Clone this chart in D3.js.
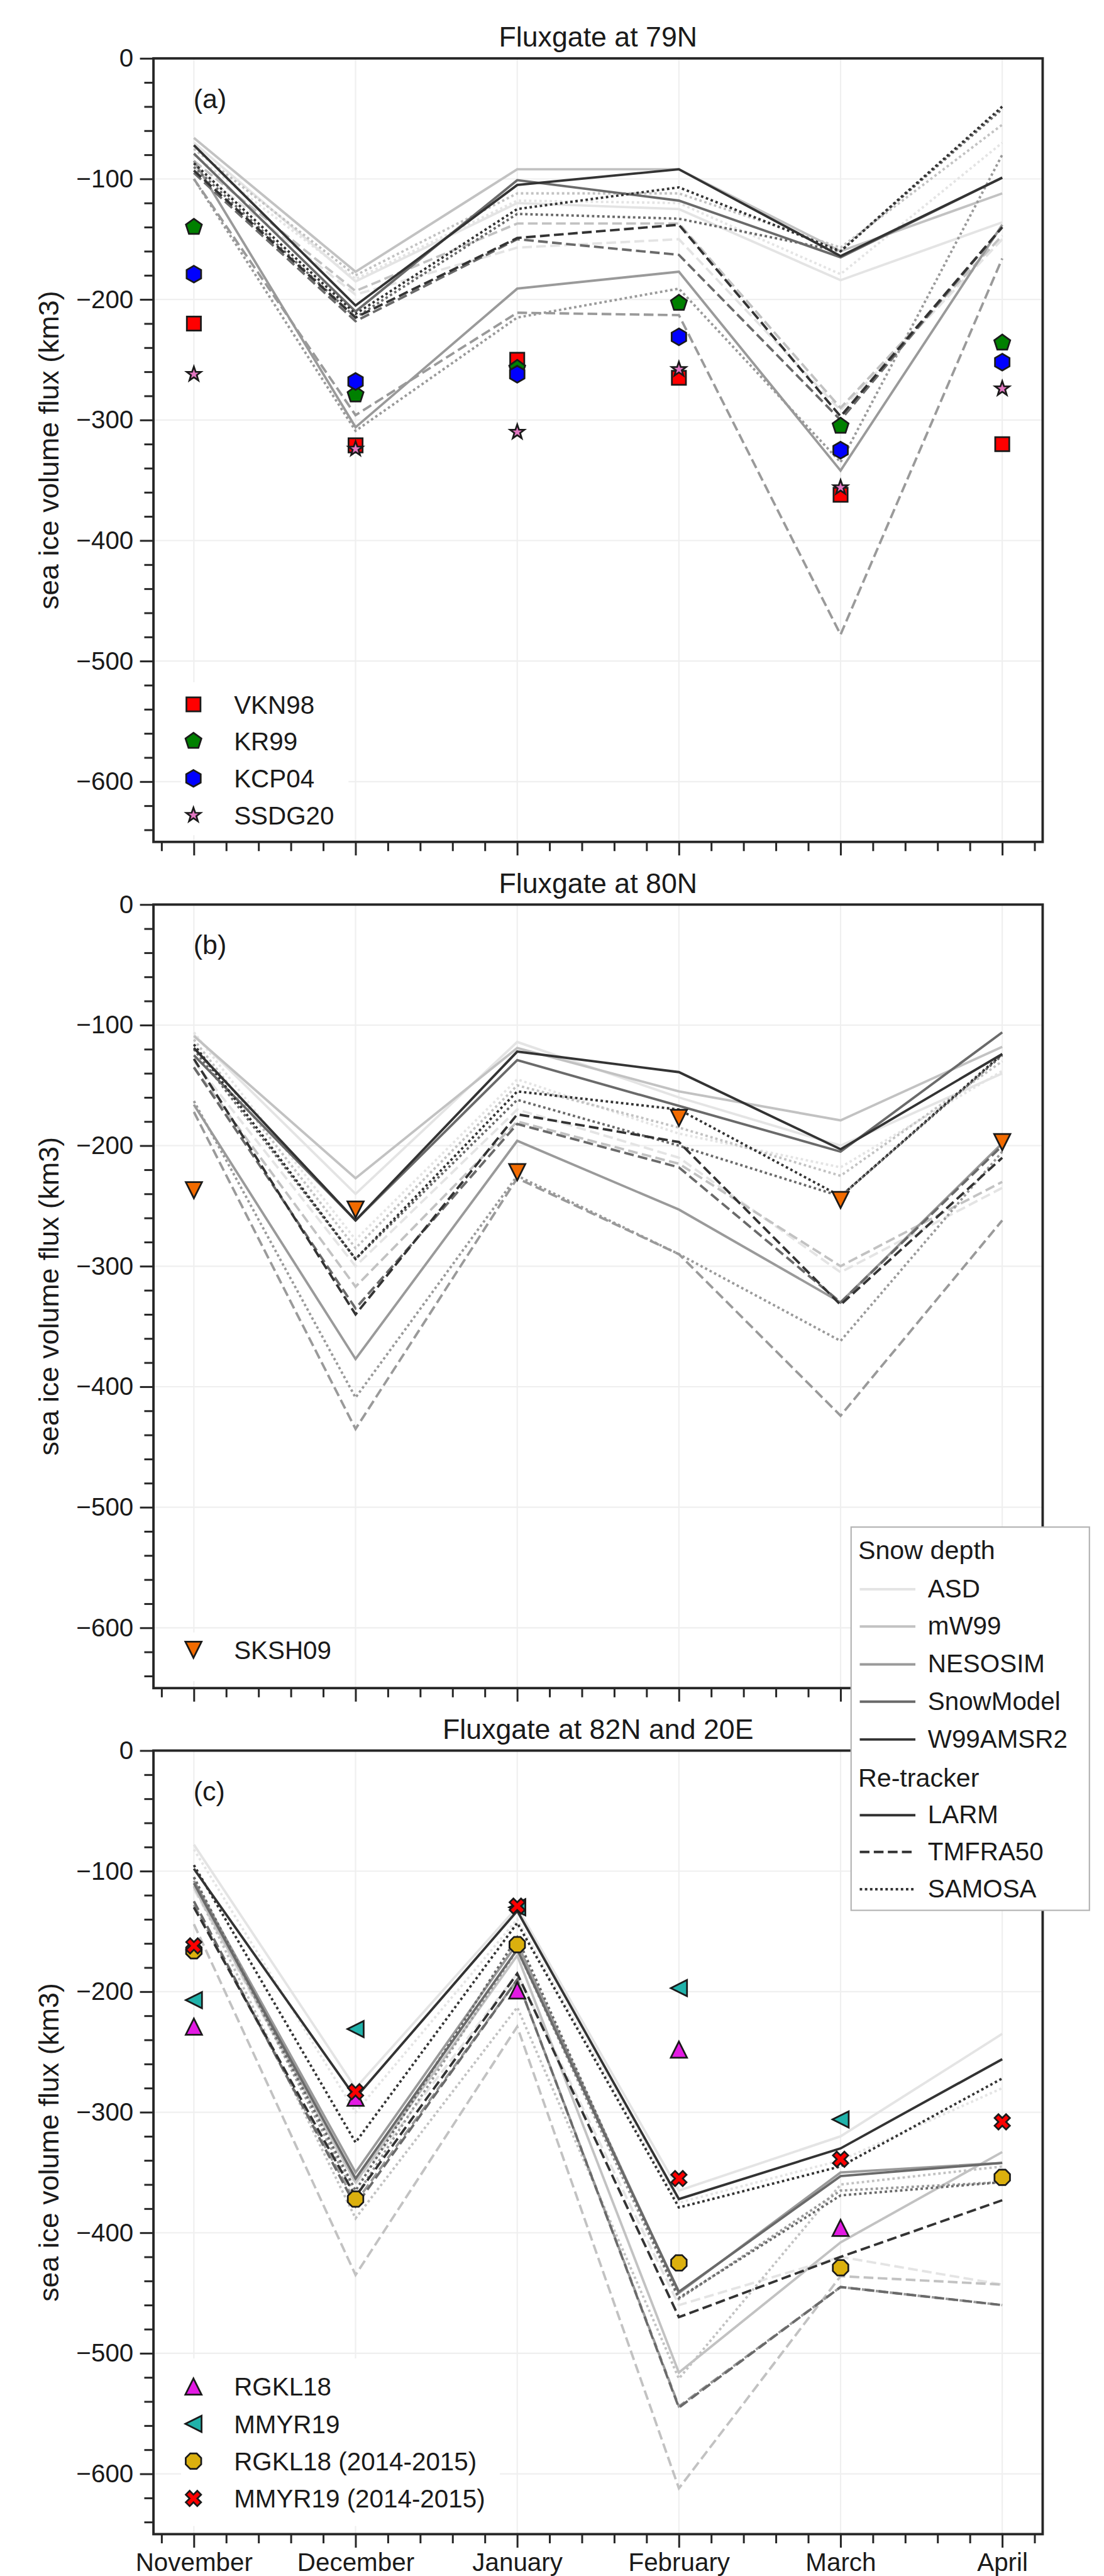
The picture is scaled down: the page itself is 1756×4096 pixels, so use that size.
<!DOCTYPE html>
<html>
<head>
<meta charset="utf-8">
<script src="https://cdn.jsdelivr.net/npm/d3@7"></script>
<style>
  body { margin: 0; background: #fff; }
  svg text { font-family: "Liberation Sans", Arial, sans-serif; fill: #1a1a1a; }
</style>
</head>
<body>
<div id="chart"></div>
<script>
/* DATA */
const months = ["November", "December", "January", "February", "March", "April"];
const snowProducts = ["ASD", "mW99", "NESOSIM", "SnowModel", "W99AMSR2"];
const retrackers = ["LARM", "TMFRA50", "SAMOSA"];
const panelTitles = ["Fluxgate at 79N", "Fluxgate at 80N", "Fluxgate at 82N and 20E"];
const panelLetters = ["(a)", "(b)", "(c)"];
const yMajor = [0, -100, -200, -300, -400, -500, -600];

// [snow depth, re-tracker, Nov..Apr] (km3)
const flux79N = [
  ["ASD", "LARM", [-70, -185, -120, -125, -184, -136]],
  ["ASD", "TMFRA50", [-90, -196, -157, -150, -292, -150]],
  ["ASD", "SAMOSA", [-80, -183, -118, -120, -179, -70]],
  ["mW99", "LARM", [-66, -177, -92, -92, -160, -112]],
  ["mW99", "TMFRA50", [-85, -193, -137, -137, -290, -147]],
  ["mW99", "SAMOSA", [-75, -180, -112, -112, -157, -55]],
  ["NESOSIM", "LARM", [-85, -306, -191, -177, -342, -138]],
  ["NESOSIM", "TMFRA50", [-100, -296, -211, -213, -478, -166]],
  ["NESOSIM", "SAMOSA", [-100, -309, -215, -191, -335, -80]],
  ["SnowModel", "LARM", [-79, -210, -101, -118, -165, -99]],
  ["SnowModel", "TMFRA50", [-95, -218, -150, -163, -300, -140]],
  ["SnowModel", "SAMOSA", [-90, -215, -129, -133, -160, -42]],
  ["W99AMSR2", "LARM", [-72, -205, -105, -92, -164, -99]],
  ["W99AMSR2", "TMFRA50", [-93, -215, -149, -138, -297, -140]],
  ["W99AMSR2", "SAMOSA", [-87, -212, -125, -107, -160, -40]]
];

const flux80N = [
  ["ASD", "LARM", [-108, -240, -114, -160, -200, -140]],
  ["ASD", "TMFRA50", [-130, -300, -170, -210, -305, -235]],
  ["ASD", "SAMOSA", [-106, -278, -145, -190, -218, -138]],
  ["mW99", "LARM", [-109, -227, -119, -155, -179, -118]],
  ["mW99", "TMFRA50", [-135, -317, -180, -215, -300, -230]],
  ["mW99", "SAMOSA", [-112, -285, -150, -185, -225, -130]],
  ["NESOSIM", "LARM", [-166, -377, -196, -253, -330, -198]],
  ["NESOSIM", "TMFRA50", [-172, -435, -227, -290, -424, -262]],
  ["NESOSIM", "SAMOSA", [-163, -409, -225, -290, -362, -205]],
  ["SnowModel", "LARM", [-125, -262, -129, -167, -205, -106]],
  ["SnowModel", "TMFRA50", [-135, -335, -182, -218, -330, -200]],
  ["SnowModel", "SAMOSA", [-120, -294, -162, -200, -242, -125]],
  ["W99AMSR2", "LARM", [-119, -262, -122, -139, -203, -124]],
  ["W99AMSR2", "TMFRA50", [-128, -340, -174, -197, -332, -210]],
  ["W99AMSR2", "SAMOSA", [-116, -294, -155, -170, -242, -124]]
];

const flux82N = [
  ["ASD", "LARM", [-78, -280, -130, -365, -320, -235]],
  ["ASD", "TMFRA50", [-115, -360, -185, -460, -420, -443]],
  ["ASD", "SAMOSA", [-82, -300, -140, -375, -340, -280]],
  ["mW99", "LARM", [-113, -358, -170, -516, -408, -333]],
  ["mW99", "TMFRA50", [-144, -435, -229, -612, -436, -443]],
  ["mW99", "SAMOSA", [-112, -388, -213, -521, -360, -345]],
  ["NESOSIM", "LARM", [-108, -350, -160, -450, -350, -342]],
  ["NESOSIM", "TMFRA50", [-128, -375, -190, -544, -445, -460]],
  ["NESOSIM", "SAMOSA", [-105, -370, -165, -455, -365, -358]],
  ["SnowModel", "LARM", [-110, -355, -165, -449, -353, -342]],
  ["SnowModel", "TMFRA50", [-125, -378, -190, -545, -445, -460]],
  ["SnowModel", "SAMOSA", [-105, -365, -155, -454, -369, -358]],
  ["W99AMSR2", "LARM", [-98, -288, -133, -372, -330, -256]],
  ["W99AMSR2", "TMFRA50", [-130, -370, -185, -470, -420, -373]],
  ["W99AMSR2", "SAMOSA", [-95, -325, -143, -379, -345, -272]]
];

// published estimates, null = no value
const refs79N = [
  ["VKN98", [-220, -321, -250, -265, -362, -320]],
  ["KR99", [-140, -279, -257, -203, -305, -236]],
  ["KCP04", [-179, -268, -262, -231, -325, -252]],
  ["SSDG20", [-262, -324, -310, -258, -356, -274]]
];
const refs80N = [
  ["SKSH09", [-237, -253, -222, -177, -245, -197]]
];
const refs82N = [
  ["RGKL18", [-229, -288, -199, -248, -396, null]],
  ["MMYR19", [-207, -231, -130, -197, -306, null]],
  ["RGKL18 (2014-2015)", [-166, -372, -161, -425, -429, -354]],
  ["MMYR19 (2014-2015)", [-162, -283, -129, -355, -339, -308]]
];

/* STYLES */
const snowColor = { ASD: "#e4e4e4", mW99: "#c2c2c2", NESOSIM: "#9a9a9a", SnowModel: "#6a6a6a", W99AMSR2: "#333333" };
const trackerDash = { LARM: null, TMFRA50: "18,8", SAMOSA: "4.5,5" };
const markerStyle = {
  "VKN98": { shape: "square", fill: "#ff0000" },
  "KR99": { shape: "pentagon", fill: "#008000" },
  "KCP04": { shape: "hexagon", fill: "#0000ff" },
  "SSDG20": { shape: "star", fill: "#e377c2" },
  "SKSH09": { shape: "triDown", fill: "#f26b00" },
  "RGKL18": { shape: "triUp", fill: "#e31ae3" },
  "MMYR19": { shape: "triLeft", fill: "#20b2aa" },
  "RGKL18 (2014-2015)": { shape: "octagon", fill: "#dbb00e" },
  "MMYR19 (2014-2015)": { shape: "x", fill: "#ff0000" }
};
const ink = "#262626";

/* LAYOUT (reference pixels, scaled down at the end) */
const S = 1756 / 2043;
const panelTop = [108, 1673.4, 3238.5];
const panelH = 1449.5;

const svg = d3.select("#chart").append("svg")
  .attr("width", 1756)
  .attr("height", 4096);
const root = svg.append("g").attr("transform", `scale(${S})`);

const x = d3.scaleLinear().domain([-0.25, 5.25]).range([284, 1929.5]);

function poly(n, r, startDeg) {
  const pts = d3.range(n).map(i => {
    const a = (startDeg + i * 360 / n) * Math.PI / 180;
    return [r * Math.cos(a), r * Math.sin(a)];
  });
  return "M" + pts.map(p => p.join(",")).join("L") + "Z";
}

function markerPath(shape) {
  switch (shape) {
    case "square": return "M-13,-13H13V13H-13Z";
    case "pentagon": return poly(5, 15.5, -90);
    case "hexagon": return poly(6, 15.5, -90);
    case "octagon": return poly(8, 15.5, -90 + 22.5);
    case "triUp": return "M0,-15L15,15L-15,15Z";
    case "triDown": return "M0,15L15,-15L-15,-15Z";
    case "triLeft": return "M-15,0L15,-15L15,15Z";
    case "star": {
      const pts = d3.range(10).map(i => {
        const r = i % 2 === 0 ? 14 : 5.6;
        const a = (-90 + i * 36) * Math.PI / 180;
        return [r * Math.cos(a), r * Math.sin(a)];
      });
      return "M" + pts.map(p => p.join(",")).join("L") + "Z";
    }
    case "x": {
      const r = 15, w = 5;
      const pts = [[-w, -r], [w, -r], [w, -w], [r, -w], [r, w], [w, w], [w, r], [-w, r], [-w, w], [-r, w], [-r, -w], [-w, -w]];
      const c = Math.SQRT1_2;
      return "M" + pts.map(([px, py]) => [(px - py) * c, (px + py) * c].join(",")).join("L") + "Z";
    }
  }
}

function drawMarker(g, name, cx, cy) {
  const st = markerStyle[name];
  g.append("path")
    .attr("d", markerPath(st.shape))
    .attr("transform", `translate(${cx},${cy})`)
    .attr("fill", st.fill)
    .attr("stroke", "#1a1a1a")
    .attr("stroke-width", 3.2)
    .attr("stroke-linejoin", "miter");
}

function drawPanel(k, lines, refs, legendRows, legendBox) {
  const top = panelTop[k], bottom = top + panelH;
  const y = d3.scaleLinear().domain([-650, 0]).range([bottom, top]);
  const g = root.append("g");

  // grid
  g.append("g").selectAll("line")
    .data(yMajor.filter(d => d < 0))
    .join("line")
    .attr("x1", x.range()[0]).attr("x2", x.range()[1])
    .attr("y1", d => y(d)).attr("y2", d => y(d))
    .attr("stroke", "#efefef").attr("stroke-width", 2.5);
  g.append("g").selectAll("line")
    .data(d3.range(6))
    .join("line")
    .attr("x1", d => x(d)).attr("x2", d => x(d))
    .attr("y1", top).attr("y2", bottom)
    .attr("stroke", "#efefef").attr("stroke-width", 2.5);

  // model lines
  const lineFunc = d3.line().x((d, i) => x(i)).y(d => y(d));
  g.append("g").selectAll("path")
    .data(lines)
    .join("path")
    .attr("d", d => lineFunc(d[2]))
    .attr("fill", "none")
    .attr("stroke", d => snowColor[d[0]])
    .attr("stroke-width", 4.5)
    .attr("stroke-dasharray", d => trackerDash[d[1]]);

  // legend background (hides grid)
  if (legendBox) {
    g.append("rect")
      .attr("x", legendBox[0]).attr("y", legendBox[1])
      .attr("width", legendBox[2]).attr("height", legendBox[3])
      .attr("fill", "#fff");
  }

  // reference markers
  const mg = g.append("g");
  refs.forEach(([name, vals]) => {
    vals.forEach((v, i) => {
      if (v !== null) drawMarker(mg, name, x(i), y(v));
    });
  });

  // axes
  const yAxis = d3.axisLeft(y).tickValues(yMajor).tickSize(25).tickPadding(12).tickFormat(d3.format("d"));
  const yMinor = d3.axisLeft(y)
    .tickValues(d3.range(-640, 0, 20).filter(d => d % 100 !== 0))
    .tickSize(17).tickFormat("");
  const xAxis = d3.axisBottom(x).tickValues(d3.range(6)).tickSize(25).tickPadding(10)
    .tickFormat(k === 2 ? (d => months[d]) : "");
  const xMinor = d3.axisBottom(x)
    .tickValues(d3.range(-1, 27).map(d => d / 5).filter(d => d > -0.25 && d < 5.25 && Math.abs(d - Math.round(d)) > 0.01))
    .tickSize(17).tickFormat("");

  [[yAxis, `translate(${x.range()[0]},0)`], [yMinor, `translate(${x.range()[0]},0)`],
   [xAxis, `translate(0,${bottom})`], [xMinor, `translate(0,${bottom})`]].forEach(([ax, tr]) => {
    const a = g.append("g").attr("transform", tr).call(ax);
    a.select(".domain").remove();
    a.selectAll("line").attr("stroke", ink).attr("stroke-width", 3.5);
    a.selectAll("text").attr("font-size", 47).attr("fill", "#111");
  });

  // frame
  g.append("rect")
    .attr("x", x.range()[0]).attr("y", top)
    .attr("width", x.range()[1] - x.range()[0]).attr("height", panelH)
    .attr("fill", "none").attr("stroke", ink).attr("stroke-width", 4.5);

  // title, panel letter, y label
  g.append("text")
    .attr("x", (x.range()[0] + x.range()[1]) / 2).attr("y", top - 21.5)
    .attr("text-anchor", "middle").attr("font-size", 52).attr("fill", "#111")
    .text(panelTitles[k]);
  g.append("text")
    .attr("x", 358).attr("y", top + 92)
    .attr("font-size", 50).attr("fill", "#222")
    .text(panelLetters[k]);
  g.append("text")
    .attr("transform", `translate(108,${(top + bottom) / 2}) rotate(-90)`)
    .attr("text-anchor", "middle").attr("font-size", 52).attr("fill", "#222")
    .text("sea ice volume flux (km3)");

  // marker legend
  refs.forEach(([name], i) => {
    const cy = legendRows[i];
    drawMarker(g, name, 358, cy);
    g.append("text")
      .attr("x", 433).attr("y", cy + 17)
      .attr("font-size", 47).attr("fill", "#222")
      .text(name);
  });
}

drawPanel(0, flux79N, refs79N, [1303, 1371, 1440, 1508], [335, 1262, 310, 283]);
drawPanel(1, flux80N, refs80N, [3052], [335, 3020, 260, 90]);
drawPanel(2, flux82N, refs82N, [4415, 4484, 4553, 4622], [335, 4363, 590, 310]);

/* LINE STYLE LEGEND */
const lg = root.append("g");
lg.append("rect")
  .attr("x", 1575).attr("y", 2825)
  .attr("width", 441).attr("height", 709)
  .attr("fill", "#fff").attr("stroke", "#b3b3b3").attr("stroke-width", 2.5);

const legendEntries = [
  { head: "Snow depth" },
  ...snowProducts.map(s => ({ label: s, color: snowColor[s], dash: null })),
  { head: "Re-tracker" },
  ...retrackers.map(r => ({ label: r, color: "#333333", dash: trackerDash[r] }))
];
const legendBase = [2884, 2955, 3024, 3094, 3163, 3233, 3305, 3373, 3441, 3510];
legendEntries.forEach((e, i) => {
  const base = legendBase[i];
  if (e.head) {
    lg.append("text").attr("x", 1588).attr("y", base)
      .attr("font-size", 48).attr("fill", "#222").text(e.head);
  } else {
    lg.append("line")
      .attr("x1", 1591).attr("x2", 1694)
      .attr("y1", base - 15).attr("y2", base - 15)
      .attr("stroke", e.color).attr("stroke-width", 4.5)
      .attr("stroke-dasharray", e.dash);
    lg.append("text").attr("x", 1717).attr("y", base)
      .attr("font-size", 47).attr("fill", "#222").text(e.label);
  }
});
</script>
</body>
</html>
